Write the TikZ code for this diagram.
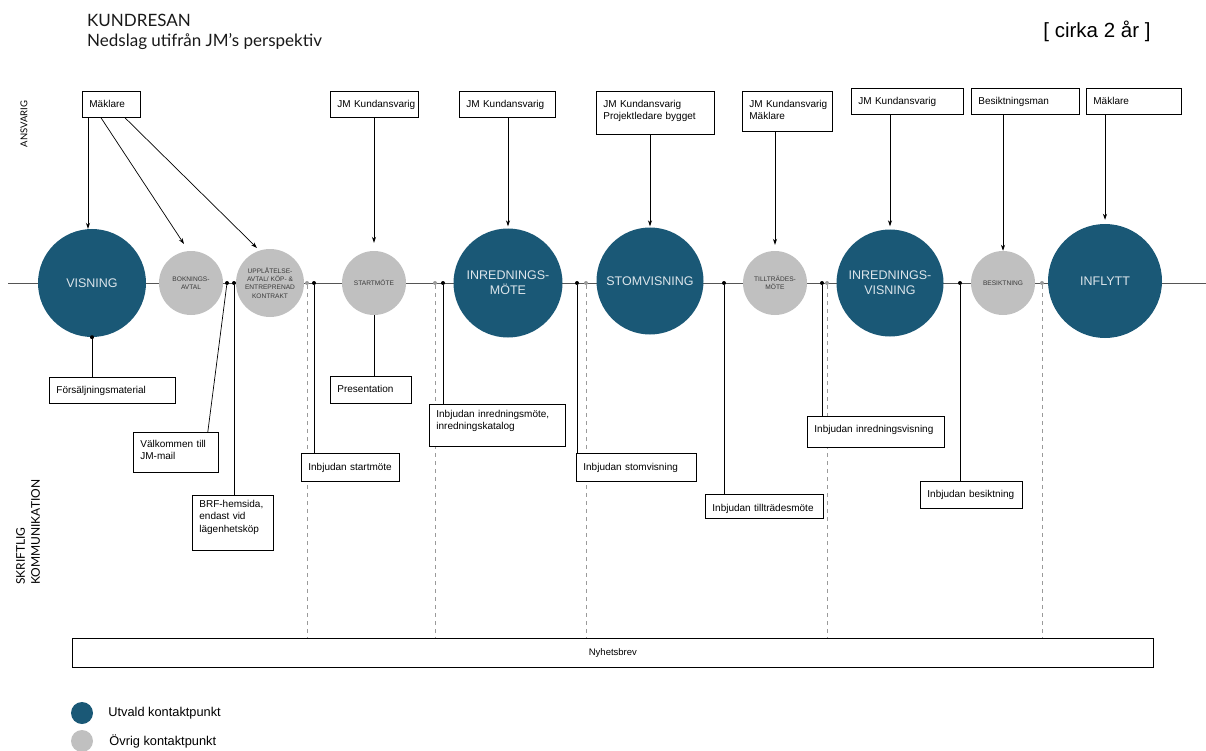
\documentclass[tikz,border=0pt]{standalone}
\usepackage{fontspec}
\setmainfont{Liberation Sans}
\newfontfamily\titlefont{Lato}
\usetikzlibrary{positioning,arrows.meta,backgrounds}

\definecolor{kpblue}{HTML}{1A5876}
\definecolor{kpgray}{HTML}{C0C0C0}
\definecolor{kplight}{HTML}{DCE5EB}
\definecolor{kpdark}{HTML}{3A3A3A}
\definecolor{lineg}{HTML}{555555}
\definecolor{dashg}{HTML}{9A9A9A}

\tikzset{
	main/.style={%
		circle, fill=kpblue, text=kplight, inner sep=0pt, align=center,
		font=\fontsize{12.5}{15}\selectfont
	},
	side/.style={%
		circle, fill=kpgray, text=kpdark, inner sep=0pt, align=center,
		font=\fontsize{6.6}{8.3}\selectfont
	},
	abox/.style={%
		draw=black, fill=white, line width=0.8pt, anchor=north west,
		align=left, inner xsep=7pt, inner ysep=0pt, text height=16pt,
		font=\fontsize{10}{12.5}\selectfont
	},
	dot/.style={circle, fill=black, inner sep=0pt, minimum size=4pt},
	gdot/.style={dot, fill=dashg},
	link/.style={draw=black, line width=0.7pt},
	arr/.style={link, -{Stealth[length=6pt,width=4pt]}},
	nyhet/.style={dashg, line width=0.9pt, dash pattern=on 4pt off 4pt}
}

\begin{document}
\begin{tikzpicture}[x=1pt, y=-1pt]
	\useasboundingbox (0,0) rectangle (1206,751);

	% titles
	\node[anchor=base west, inner sep=0pt, text=black!90, font=\titlefont\fontsize{17}{21}\selectfont] (title) at (87,27) {KUNDRESAN};
	\node[anchor=base west, inner sep=0pt, text=black!90, font=\titlefont\fontsize{17}{21}\selectfont] (subtitle) at (87,47) {Nedslag utifrån JM’s perspektiv};
	\node[anchor=base, inner sep=0pt, font=\fontsize{20.5}{24}\selectfont] (period) at (1097,38) {[ cirka 2 år ]};

	\node[rotate=90, inner sep=0pt, font=\titlefont\fontsize{9.5}{11}\selectfont] (ansv) at (24,124) {ANSVARIG};
	\node[rotate=90, anchor=west, align=left, inner sep=0pt, font=\titlefont\fontsize{12}{15}\selectfont] (skrift) at (28,585) {SKRIFTLIG\\KOMMUNIKATION};

	% kontaktpunkter
	\node[main, minimum size=108pt] (c1) at (92,283) {VISNING};
	\node[side, minimum size=64pt] (c2) at (191,283) {BOKNINGS-\\AVTAL};
	\node[side, minimum size=68pt] (c3) at (270,283) {UPPLÅTELSE-\\AVTAL/ KÖP- \&\\ENTREPRENAD\\KONTRAKT};
	\node[side, minimum size=64pt] (c4) at (374,283) {STARTMÖTE};
	\node[main, minimum size=109pt] (c5) at (508,283) {INREDNINGS-\\MÖTE};
	\node[main, minimum size=107pt] (c6) at (650,281) {STOMVISNING};
	\node[side, minimum size=64pt] (c7) at (775,283) {TILLTRÄDES-\\MÖTE};
	\node[main, minimum size=107pt] (c8) at (890,283) {INREDNINGS-\\VISNING};
	\node[side, minimum size=64pt] (c9) at (1003,283) {BESIKTNING};
	\node[main, minimum size=114pt] (c10) at (1105,281) {INFLYTT};

	% dots on the line
	\node[dot] (d0) at (c1.south) {};
	\foreach \x [count=\i] in {227, 234, 314, 443, 577, 724, 822, 960} {
		\node[dot] (d\i) at (\x,283) {};
	}
	\foreach \x [count=\i] in {307, 435, 586, 827, 1042} {
		\node[gdot] (g\i) at (\x,283) {};
	}

	% ansvarig
	\node[abox, text width=44pt, text depth=10pt] (a1) at (82,91) {Mäklare};
	\node[abox, text width=74pt, text depth=10pt] (a2) at (330,91) {\mbox{JM Kundansvarig}};
	\node[abox, text width=82pt, text depth=10pt] (a3) at (459,91) {\mbox{JM Kundansvarig}};
	\node[abox, text width=104pt, text depth=27pt] (a4) at (596,91) {\mbox{JM Kundansvarig}\\\mbox{Projektledare bygget}};
	\node[abox, text width=76pt, text depth=24pt] (a5) at (742,91) {\mbox{JM Kundansvarig}\\Mäklare};
	\node[abox, text width=98pt, text depth=10pt] (a6) at (851,88) {\mbox{JM Kundansvarig}};
	\node[abox, text width=94pt, text depth=10pt] (a7) at (971,88) {Besiktningsman};
	\node[abox, text width=81pt, text depth=10pt] (a8) at (1086,88) {Mäklare};

	% skriftlig kommunikation
	\node[abox, text width=112pt, text depth=10pt] (f1) at (49,377) {Försäljningsmaterial};
	\node[abox, text width=71pt, text height=15pt, text depth=25pt] (f2) at (133,432) {\mbox{Välkommen till}\\JM-mail};
	\node[abox, text width=67pt, text height=12pt, text depth=43pt] (f3) at (192,495) {BRF-hemsida,\\\mbox{endast vid}\\lägenhetsköp};
	\node[abox, text width=67pt, text depth=11pt] (f4) at (330,376) {Presentation};
	\node[abox, text width=84pt, text height=17pt, text depth=11pt] (f5) at (301,453) {\mbox{Inbjudan startmöte}};
	\node[abox, text width=122pt, text height=13pt, text depth=29pt] (f6) at (429,404) {\mbox{Inbjudan inredningsmöte,}\\inredningskatalog};
	\node[abox, text width=106pt, text height=17pt, text depth=11pt] (f7) at (576,453) {\mbox{Inbjudan stomvisning}};
	\node[abox, text width=104pt, text height=17pt, text depth=7pt] (f8) at (705,494) {\mbox{Inbjudan tillträdesmöte}};
	\node[abox, text width=123pt, text depth=15pt] (f9) at (807,416) {\mbox{Inbjudan inredningsvisning}};
	\node[abox, text width=88pt, text depth=11pt] (f10) at (920,481) {\mbox{Inbjudan besiktning}};

	\node[draw=black, fill=white, line width=0.8pt, anchor=north west, inner sep=0pt,
		minimum width=1081pt, minimum height=29pt, font=\fontsize{9.5}{11}\selectfont] (nb) at (72,638) {Nyhetsbrev};

	% arrows from ansvarig
	\coordinate (a1v) at ([xshift=6pt]a1.south west);
	\coordinate (t2) at (184,244);
	\coordinate (t3) at (257,248);
	\draw[arr] (a1v) -- (a1v |- c1.north);
	\draw[arr] ([xshift=19pt]a1.south west) -- (t2);
	\draw[arr] ([xshift=43pt]a1.south west) -- (t3);
	\draw[arr, shorten >=8pt] (c4 |- a2.south) -- (c4.north);
	\draw[arr, shorten >=2pt] (c5 |- a3.south) -- (c5.north);
	\draw[arr, shorten >=1pt] (c6 |- a4.south) -- (c6.north);
	\draw[arr, shorten >=6pt] (c7 |- a5.south) -- (c7.north);
	\draw[arr, shorten >=3pt] (c8 |- a6.south) -- (c8.north);
	\draw[arr] (c9 |- a7.south) -- (c9.north);
	\draw[arr, shorten >=4pt] (c10 |- a8.south) -- (c10.north);

	% links down to the texts
	\draw[link] (d0) -- (d0 |- f1.north);
	\draw[link] (d1) -- ([xshift=-11pt]f2.north east);
	\draw[link] (d2) -- (d2 |- f3.north);
	\draw[link] (c4) -- (c4 |- f4.north);
	\draw[link] (d3) -- (d3 |- f5.north);
	\draw[link] (d4) -- (d4 |- f6.north);
	\draw[link] (d5) -- (d5 |- f7.north);
	\draw[link] (d6) -- (d6 |- f8.north);
	\draw[link] (d7) -- (d7 |- f9.north);
	\draw[link] (d8) -- (d8 |- f10.north);

	% legend
	\node[main, minimum size=22pt] (l1) at (82,713) {};
	\node[side, minimum size=22pt] (l2) at (82,741) {};
	\node[right=15pt of l1, inner sep=0pt, font=\fontsize{12.8}{15}\selectfont] (l1t) {Utvald kontaktpunkt};
	\node[right=16pt of l2, inner sep=0pt, font=\fontsize{12.8}{15}\selectfont] (l2t) {Övrig kontaktpunkt};

	% time line and newsletter lines
	\begin{scope}[on background layer]
		\coordinate (tl0) at (8,283);
		\coordinate (tl1) at (1206,283);
		\draw[lineg, line width=1pt] (tl0) -- (tl1);
		\foreach \i in {1,...,5} {
			\draw[nyhet] (g\i) -- (g\i |- nb.north);
		}
	\end{scope}
\end{tikzpicture}
\end{document}
